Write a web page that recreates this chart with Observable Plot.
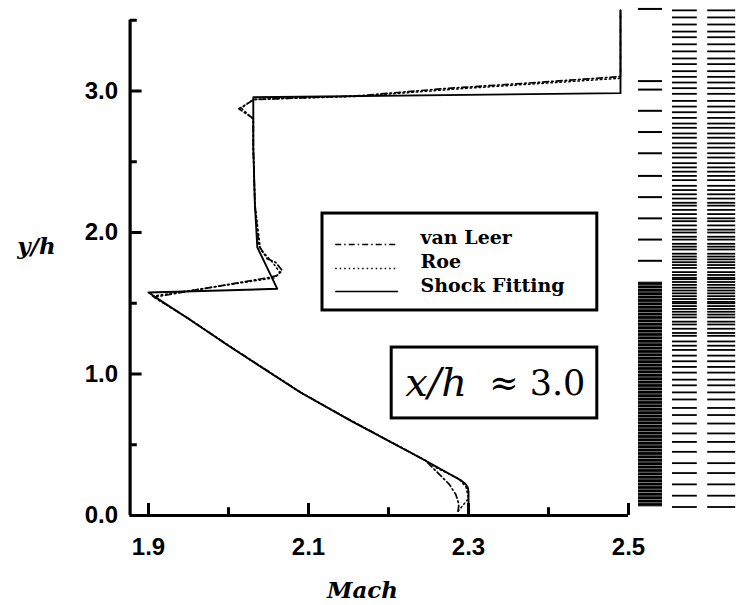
<!DOCTYPE html>
<html><head><meta charset="utf-8">
<script src="https://cdn.jsdelivr.net/npm/d3@7"></script>
<script src="https://cdn.jsdelivr.net/npm/@observablehq/plot@0.6"></script>
<style>body{margin:0;background:#fff}</style>
</head><body><div id="chart"></div>
<script>
// ---- axes ----
const xTicksMajor = [1.9, 2.1, 2.3, 2.5];
const xTickLabels = ["1.9", "2.1", "2.3", "2.5"];
const xTicksMinor = [2.0, 2.2, 2.4];
const yTicksMajor = [0, 1, 2, 3];
const yTickLabels = ["0.0", "1.0", "2.0", "3.0"];
const yTicksMinor = [0.5, 1.5, 2.5, 3.5];

// ---- Shock Fitting (solid) ----
const shockMach = [2.300, 2.300, 2.299, 2.296, 2.290, 2.246, 2.1525, 2.090, 2.000, 1.950, 1.900, 2.061, 2.036, 2.033, 2.031, 2.031, 2.490, 2.490];
const shockY    = [0.000, 0.170, 0.200, 0.225, 0.250, 0.389, 0.671, 0.869, 1.200, 1.390, 1.576, 1.602, 1.896, 2.200, 2.600, 2.956, 2.985, 3.570];

// ---- van Leer (dash-dot) ----
const vanLeerMach = [2.287, 2.288, 2.284, 2.276, 2.262, 2.246, 2.1525, 2.090, 2.000, 1.950, 1.907, 2.0525, 2.0609, 2.0671, 2.0588, 2.0484, 2.0379, 2.033, 2.031, 2.031, 2.013, 2.032, 2.160, 2.265, 2.390, 2.490, 2.490];
const vanLeerY    = [0.030, 0.080, 0.150, 0.220, 0.300, 0.389, 0.673, 0.871, 1.202, 1.392, 1.543, 1.684, 1.696, 1.731, 1.790, 1.814, 1.908, 2.200, 2.600, 2.806, 2.874, 2.940, 2.965, 3.015, 3.062, 3.102, 3.570];

// ---- Roe (dotted) ----
const roeMach = [2.287, 2.300, 2.297, 2.288, 2.262, 2.246, 2.1525, 2.090, 2.000, 1.950, 1.905, 2.058, 2.064, 2.055, 2.040, 2.033, 2.031, 2.031, 2.016, 2.031, 2.160, 2.300, 2.490, 2.490];
const roeY    = [0.030, 0.120, 0.200, 0.260, 0.330, 0.390, 0.672, 0.870, 1.201, 1.391, 1.550, 1.680, 1.720, 1.790, 1.880, 2.200, 2.600, 2.800, 2.880, 2.940, 2.962, 3.020, 3.090, 3.570];

// ---- legend ----
const legendNames = ["van Leer", "Roe", "Shock Fitting"];
const legendDash = ["6,3,1.5,3", "1.5,3", "none"];

// ---- grid columns at the right (row positions in y/h) ----
const meshCol1Rows = [3.58, 3.07, 3.01, 2.86, 2.71, 2.56, 2.40, 2.25, 2.10, 1.95, 1.80];
const meshCol1Block = [0.06, 1.65];
const meshRows = [3.57, 3.52, 3.47, 3.42, 3.38, 3.33, 3.28, 3.23, 3.19, 3.14, 3.10, 3.06, 3.02, 2.98, 2.93, 2.89, 2.85, 2.81, 2.77, 2.74, 2.70, 2.67, 2.63, 2.60, 2.56, 2.53, 2.49, 2.46, 2.43, 2.40, 2.37, 2.33, 2.30, 2.27, 2.24, 2.21, 2.19, 2.16, 2.13, 2.10, 2.08, 2.05, 2.02, 2.00, 1.97, 1.95, 1.92, 1.90, 1.88, 1.85, 1.83, 1.81, 1.79, 1.77, 1.75, 1.72, 1.70, 1.68, 1.67, 1.65, 1.63, 1.61, 1.59, 1.57, 1.55, 1.53, 1.51, 1.50, 1.48, 1.46, 1.44, 1.42, 1.40, 1.37, 1.35, 1.32, 1.29, 1.27, 1.23, 1.20, 1.17, 1.13, 1.09, 1.05, 1.01, 0.96, 0.92, 0.87, 0.82, 0.76, 0.71, 0.65, 0.58, 0.52, 0.45, 0.37, 0.30, 0.22, 0.14, 0.06];

const toPts = (xs, ys) => xs.map((x, i) => ({x, y: ys[i]}));
const shock = toPts(shockMach, shockY);
const vanLeer = toPts(vanLeerMach, vanLeerY);
const roe = toPts(roeMach, roeY);

const AX = 1.877; // y-axis position
const tickFont = "'Liberation Sans Narrow','Liberation Sans',Arial,sans-serif";
const serif = "'DejaVu Serif',serif";

const legendRows = legendNames.map((n, i) => ({name: n, dash: legendDash[i], ly: [1.915, 1.746, 1.583][i], ty: [1.965, 1.795, 1.625][i]}));

const chart = Plot.plot({
  width: 738, height: 605,
  marginLeft: 0, marginRight: 0, marginTop: 0, marginBottom: 90,
  x: {domain: [1.715, 2.6375], axis: null},
  y: {domain: [0, 3.6396], axis: null},
  style: {background: "#fff"},
  marks: [
    // axes
    Plot.ruleY([0], {x1: AX, x2: 2.5, stroke: "#000", strokeWidth: 3.2}),
    Plot.ruleX([AX], {y1: 0, y2: 3.5, stroke: "#000", strokeWidth: 3.2}),
    Plot.ruleX(xTicksMajor, {x: d => d, y1: 0, y2: 0.085, stroke: "#000", strokeWidth: 3}),
    Plot.ruleX(xTicksMinor, {x: d => d, y1: 0, y2: 0.055, stroke: "#000", strokeWidth: 3}),
    Plot.ruleY(yTicksMajor, {y: d => d, x1: AX, x2: AX + 0.015, stroke: "#000", strokeWidth: 3}),
    Plot.ruleY(yTicksMinor, {y: d => d, x1: AX, x2: AX + 0.009, stroke: "#000", strokeWidth: 3}),
    Plot.text(xTickLabels, {x: (d, i) => xTicksMajor[i], y: 0, text: d => d, dy: 32, fontSize: 24, fontWeight: "bold", fontFamily: tickFont}),
    Plot.text(yTickLabels, {x: AX, y: (d, i) => yTicksMajor[i], text: d => d, dx: -12, textAnchor: "end", fontSize: 24, fontWeight: "bold", fontFamily: tickFont}),
    Plot.text(["y/h"], {x: 1.76, y: 1.90, text: d => d, fontSize: 23, fontWeight: "bold", fontStyle: "italic", fontFamily: serif}),
    Plot.text(["Mach"], {x: 2.1675, y: -0.53, text: d => d, fontSize: 23, fontWeight: "bold", fontStyle: "italic", fontFamily: serif}),
    // curves
    Plot.line(shock, {x: "x", y: "y", stroke: "#000", strokeWidth: 1.9}),
    Plot.line(vanLeer, {x: "x", y: "y", stroke: "#000", strokeWidth: 1.7, strokeDasharray: "6,3,1.5,3"}),
    Plot.line(roe, {x: "x", y: "y", stroke: "#000", strokeWidth: 1.5, strokeDasharray: "1.5,3"}),
    // legend box
    Plot.rect([0], {x1: 2.1175, x2: 2.461, y1: 1.449, y2: 2.134, fill: "#fff", stroke: "#000", strokeWidth: 3}),
    ...legendRows.map(r => Plot.ruleY([r], {y: "ly", x1: 2.134, x2: 2.2125, stroke: "#000", strokeWidth: 1.6, strokeDasharray: r.dash})),
    Plot.text(legendRows, {x: 2.24, y: "ty", text: "name", textAnchor: "start", fontSize: 19, fontWeight: "bold", fontFamily: serif}),
    // x/h box
    Plot.rect([0], {x1: 2.204, x2: 2.461, y1: 0.686, y2: 1.187, fill: "#fff", stroke: "#000", strokeWidth: 3}),
    Plot.text(["x/h"], {x: 2.221, y: 0.933, text: d => d, textAnchor: "start", fontSize: 40, fontStyle: "italic", fontFamily: serif}),
    Plot.text(["\u2248 3.0"], {x: 2.446, y: 0.933, text: d => d, textAnchor: "end", fontSize: 35, fontFamily: serif}),
    // grid columns
    Plot.ruleY(meshCol1Rows, {y: d => d, x1: 2.5125, x2: 2.5425, stroke: "#000", strokeWidth: 2}),
    Plot.rect([meshCol1Block], {x1: 2.5125, x2: 2.5425, y1: d => d[0], y2: d => d[1], fill: "url(#stripes)"}),
    Plot.ruleY(meshRows, {y: d => d, x1: 2.555, x2: 2.586, stroke: "#000", strokeWidth: 1.8}),
    Plot.ruleY(meshRows, {y: d => d, x1: 2.599, x2: 2.634, stroke: "#000", strokeWidth: 1.8})
  ]
});

// stripe pattern for the dense block
const svg = d3.select(chart);
const pat = svg.insert("defs", ":first-child").append("pattern")
  .attr("id", "stripes").attr("patternUnits", "userSpaceOnUse")
  .attr("width", 10).attr("height", 3.4);
pat.append("rect").attr("width", 10).attr("height", 3.4).attr("fill", "#aaa");
pat.append("rect").attr("width", 10).attr("height", 2.7).attr("fill", "#000");

document.getElementById("chart").append(chart);
</script>
</body></html>
